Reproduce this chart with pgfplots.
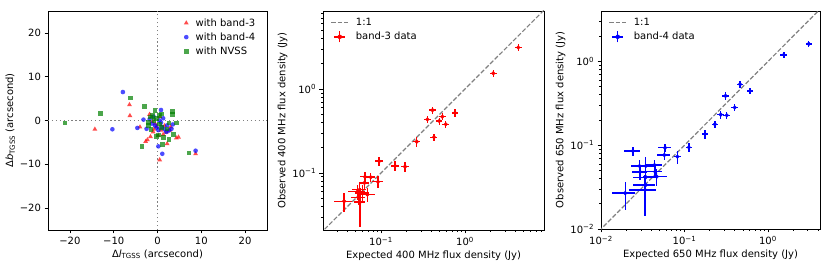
\documentclass[border=0pt]{standalone}
\usepackage{fontspec}
\setmainfont{DejaVu Sans}
\usepackage{pgfplots}
\usepackage{pgfplotstable}
\pgfplotsset{compat=1.18}

\pgfplotstableread{
x y
-14.3 -2.0
-6.4 3.6
-6.3 1.1
-4.0 -1.5
8.7 -7.6
0.5 -9.0
2.2 -5.3
4.3 -4.0
4.8 -3.8
-2.7 -4.8
-2.3 -4.4
-1.6 -3.7
-1.0 -2.6
-0.2 -1.4
0.8 -2.2
1.3 -3.2
2.8 -2.2
-1.8 1.4
-0.5 -0.8
1.6 -1.2
0.2 -3.5
3.0 -1.5
-1.2 -0.3
0.6 0.8
2.0 -2.7
-0.8 -2.0
}\tabRed

\pgfplotstableread{
x y
-7.9 6.5
-10.3 -2.0
-4.6 -1.7
8.7 -6.9
1.1 -7.6
0.2 -5.9
0.8 2.4
-3.2 0.2
-2.5 -1.9
3.5 -0.9
3.2 -1.9
2.0 -2.6
2.6 -2.3
-0.6 -1.1
-0.2 -1.6
1.0 -1.5
0.4 0.0
1.3 0.5
-1.3 -0.7
0.8 -0.5
-1.8 0.3
1.6 -2.0
0.2 -2.2
2.2 -1.1
-0.9 0.9
}\tabBlue

\pgfplotstableread{
x y
-21.1 -0.6
-13.0 1.6
-6.1 5.1
-2.9 3.2
-3.5 -5.9
7.2 -7.4
1.1 -5.5
1.4 -3.9
-0.2 -3.6
2.6 -4.4
3.4 2.1
3.4 1.4
3.7 -3.2
4.3 -0.6
2.6 -0.6
2.2 -1.9
-0.6 2.3
-2.1 -0.4
-2.0 -1.1
-1.6 0.8
-1.1 1.2
0.5 1.2
0.9 1.5
-0.2 0.4
-0.8 0.0
0.4 -0.8
0.9 -1.6
-1.5 -2.0
0.2 -3.3
}\tabGreen

\pgfplotstableread{
x y ex ey
4.30 3.12 0.40 0.30
2.17 1.54 0.20 0.15
0.76 0.52 0.07 0.05
0.41 0.56 0.04 0.055
0.356 0.435 0.035 0.042
0.537 0.468 0.05 0.045
0.494 0.416 0.045 0.04
0.589 0.38 0.055 0.037
0.427 0.266 0.04 0.026
0.266 0.236 0.026 0.032
0.095 0.138 0.011 0.018
0.147 0.121 0.016 0.016
0.193 0.119 0.02 0.015
0.0646 0.090 0.008 0.012
0.0754 0.089 0.010 0.011
0.0634 0.076 0.008 0.011
0.092 0.0785 0.013 0.013
0.0524 0.060 0.012 0.012
0.0607 0.0578 0.012 0.014
0.0689 0.0553 0.015 0.010
0.0538 0.051 0.010 0.010
0.0563 0.045 0.008 0.022
0.0364 0.046 0.009 0.012
0.0555 0.063 0.010 0.010
}\tabBandThree

\pgfplotstableread{
x y ex ey
3.08 1.62 0.26 0.14
1.55 1.20 0.14 0.10
0.463 0.533 0.04 0.05
0.61 0.444 0.05 0.04
0.31 0.388 0.028 0.038
0.40 0.282 0.035 0.028
0.272 0.232 0.025 0.025
0.321 0.228 0.028 0.024
0.231 0.178 0.02 0.017
0.176 0.136 0.015 0.017
0.113 0.0942 0.010 0.012
0.0822 0.073 0.008 0.013
0.0585 0.0934 0.010 0.010
0.0574 0.0764 0.010 0.010
0.0241 0.0853 0.005 0.010
0.0437 0.058 0.010 0.008
0.0289 0.0565 0.006 0.010
0.0344 0.0565 0.010 0.015
0.0294 0.048 0.006 0.010
0.0445 0.0484 0.010 0.008
0.0466 0.0423 0.015 0.010
0.0344 0.0415 0.010 0.010
0.0344 0.0336 0.010 0.010
0.0338 0.0293 0.012 0.015
0.0195 0.0268 0.006 0.010
}\tabBandFour

\definecolor{mplgreen}{rgb}{0,0.5,0}

\begin{document}
\fontsize{10}{12}\selectfont
\begin{tikzpicture}
\useasboundingbox (0,0) rectangle (831pt,268pt);
\pgfplotsset{
  every axis/.append style={
    scale only axis,
    anchor=south west,
    font=\fontsize{10}{12}\selectfont,
    tick align=outside,
    tick pos=left,
    major tick length=3.5pt,
    minor tick length=2pt,
    axis line style={black, line width=0.6pt},
    every tick/.style={black, line width=0.6pt},
    legend cell align=left,
    legend style={draw=none, fill=none, font=\fontsize{10}{12}\selectfont, row sep=1pt, column sep=5pt},
    xlabel style={yshift=2pt},
    ylabel style={yshift=-2pt},
  },
}

% ---------- Panel 1 ----------
\begin{axis}[
  at={(48pt,38pt)}, width=219pt, height=219pt,
  xmin=-25, xmax=25, ymin=-25, ymax=25,
  xtick={-20,-10,0,10,20}, xticklabels={−20,−10,0,10,20},
  ytick={-20,-10,0,10,20}, yticklabels={−20,−10,0,10,20},
  xlabel={Δ\textit{l}\textsubscript{TGSS} (arcsecond)},
  ylabel={Δ\textit{b}\textsubscript{TGSS} (arcsecond)},
  legend style={at={(0.97,0.985)}, anchor=north east},
]
\addplot[only marks, color=red, mark=triangle*, mark size=2.8pt, mark options={fill=red, fill opacity=0.7, draw opacity=0}] table[x=x,y=y] {\tabRed};
\addlegendentry{with band-3}
\addplot[only marks, color=blue, mark=*, mark size=2.3pt, mark options={fill=blue, fill opacity=0.7, draw opacity=0}] table[x=x,y=y] {\tabBlue};
\addlegendentry{with band-4}
\addplot[only marks, color=mplgreen, mark=square*, mark size=2.3pt, mark options={fill=mplgreen, fill opacity=0.7, draw opacity=0}] table[x=x,y=y] {\tabGreen};
\addlegendentry{with NVSS}
\addplot[gray, line width=1.2pt, dash pattern=on 1.3pt off 2.6pt, forget plot] coordinates {(0,-25) (0,25)};
\addplot[gray, line width=1.2pt, dash pattern=on 1.3pt off 2.6pt, forget plot] coordinates {(-25,0) (25,0)};
\end{axis}

% ---------- Panel 2 ----------
\begin{axis}[
  at={(323pt,38pt)}, width=221pt, height=219pt,
  xmode=log, ymode=log,
  xmin=0.0204, xmax=8.7, ymin=0.0209, ymax=8.5,
  xtick={0.1,1}, xticklabels={10\textsuperscript{−1},10\textsuperscript{0}},
  ytick={0.1,1}, yticklabels={10\textsuperscript{−1},10\textsuperscript{0}},
  minor xtick={0.03,0.04,0.05,0.06,0.07,0.08,0.09,0.2,0.3,0.4,0.5,0.6,0.7,0.8,0.9,2,3,4,5,6,7,8},
  minor ytick={0.03,0.04,0.05,0.06,0.07,0.08,0.09,0.2,0.3,0.4,0.5,0.6,0.7,0.8,0.9,2,3,4,5,6,7,8},
  xlabel={Expected 400 MHz flux density (Jy)},
  ylabel={Observed 400 MHz flux density (Jy)},
  legend style={at={(0.02,0.985)}, anchor=north west},
]
\addplot[gray, line width=1.2pt, dash pattern=on 4.5pt off 2pt] coordinates {(0.01,0.01) (20,20)};
\addlegendentry{1:1}
\addplot[only marks, color=red, mark=*, mark size=1.9pt, mark options={fill=red, draw=red}, forget plot,
  error bars/.cd, x dir=both, x explicit, y dir=both, y explicit,
  error mark=none, error bar style={red, line width=1.4pt}]
  table[x=x, y=y, x error=ex, y error=ey] {\tabBandThree};
\addlegendimage{legend image code/.code={
  \draw[red, line width=1.4pt] (0.1cm,0pt)--(0.5cm,0pt) (0.3cm,-5.5pt)--(0.3cm,5.5pt);
  \fill[red] (0.3cm,0pt) circle (2pt);}}
\addlegendentry{band-3 data}
\end{axis}

% ---------- Panel 3 ----------
\begin{axis}[
  at={(601pt,39pt)}, width=219pt, height=218pt,
  xmode=log, ymode=log,
  xmin=0.01, xmax=4.2, ymin=0.01, ymax=4.0,
  xtick={0.01,0.1,1}, xticklabels={10\textsuperscript{−2},10\textsuperscript{−1},10\textsuperscript{0}},
  ytick={0.01,0.1,1}, yticklabels={10\textsuperscript{−2},10\textsuperscript{−1},10\textsuperscript{0}},
  minor xtick={0.02,0.03,0.04,0.05,0.06,0.07,0.08,0.09,0.2,0.3,0.4,0.5,0.6,0.7,0.8,0.9,2,3,4},
  minor ytick={0.02,0.03,0.04,0.05,0.06,0.07,0.08,0.09,0.2,0.3,0.4,0.5,0.6,0.7,0.8,0.9,2,3},
  xlabel={Expected 650 MHz flux density (Jy)},
  ylabel={Observed 650 MHz flux density (Jy)},
  legend style={at={(0.02,0.985)}, anchor=north west},
]
\addplot[gray, line width=1.2pt, dash pattern=on 4.5pt off 2pt] coordinates {(0.005,0.005) (20,20)};
\addlegendentry{1:1}
\addplot[only marks, color=blue, mark=*, mark size=1.9pt, mark options={fill=blue, draw=blue}, forget plot,
  error bars/.cd, x dir=both, x explicit, y dir=both, y explicit,
  error mark=none, error bar style={blue, line width=1.4pt}]
  table[x=x, y=y, x error=ex, y error=ey] {\tabBandFour};
\addlegendimage{legend image code/.code={
  \draw[blue, line width=1.4pt] (0.1cm,0pt)--(0.5cm,0pt) (0.3cm,-5.5pt)--(0.3cm,5.5pt);
  \fill[blue] (0.3cm,0pt) circle (2pt);}}
\addlegendentry{band-4 data}
\end{axis}
\end{tikzpicture}
\end{document}
